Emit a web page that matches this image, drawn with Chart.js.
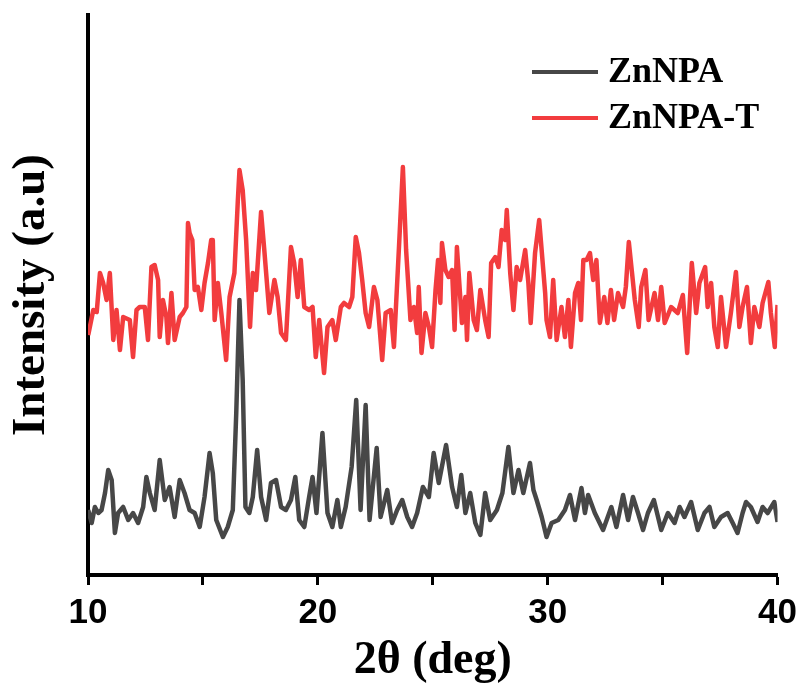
<!DOCTYPE html>
<html>
<head>
<meta charset="utf-8">
<title>ZnNPA XRD</title>
<script src="https://cdn.jsdelivr.net/npm/chart.js@4.4.1/dist/chart.umd.min.js"></script>
<style>
  html, body { margin: 0; padding: 0; background: #fff; }
  canvas { display: block; }
</style>
</head>
<body>
<canvas id="xrd-chart" width="804" height="693"></canvas>
<script>
// XRD patterns, 2-theta in degrees, intensity in arbitrary units
const zn2theta = [
  10.01, 10.16, 10.30, 10.45, 10.59, 10.74, 10.88, 11.03, 11.17, 11.31,
  11.53, 11.75, 11.96, 12.18, 12.40, 12.54, 12.69, 12.90, 13.12, 13.34,
  13.55, 13.77, 13.99, 14.20, 14.42, 14.64, 14.86, 15.07, 15.29, 15.43,
  15.58, 15.87, 16.08, 16.30, 16.45, 16.59, 16.73, 16.85, 17.02, 17.17,
  17.36, 17.53, 17.75, 17.96, 18.18, 18.40, 18.61, 18.83, 19.02, 19.19,
  19.41, 19.62, 19.77, 19.94, 20.20, 20.42, 20.63, 20.85, 21.00, 21.21,
  21.47, 21.67, 21.86, 22.08, 22.25, 22.56, 22.73, 23.02, 23.23, 23.45,
  23.67, 23.89, 24.10, 24.32, 24.57, 24.83, 25.04, 25.26, 25.58, 25.84,
  26.05, 26.24, 26.42, 26.63, 26.85, 27.07, 27.28, 27.50, 27.79, 28.03,
  28.29, 28.51, 28.73, 28.94, 29.23, 29.38, 29.52, 29.74, 29.95, 30.17,
  30.46, 30.75, 30.97, 31.19, 31.47, 31.62, 31.76, 32.05, 32.41, 32.77,
  32.99, 33.28, 33.50, 33.71, 33.93, 34.15, 34.36, 34.62, 34.94, 35.23,
  35.52, 35.74, 35.95, 36.24, 36.53, 36.82, 37.04, 37.25, 37.54, 37.83,
  38.05, 38.26, 38.48, 38.63, 38.84, 39.13, 39.35, 39.57, 39.86, 40.00
];
const znIntensity = [
  63, 50, 66, 60, 63, 80, 103, 93, 40, 60,
  66, 53, 60, 50, 66, 96, 80, 63, 113, 73,
  86, 56, 93, 80, 63, 60, 46, 76, 120, 100,
  53, 36, 46, 63, 160, 273, 193, 66, 60, 76,
  123, 76, 53, 90, 93, 66, 63, 73, 96, 53,
  46, 76, 96, 60, 140, 60, 46, 73, 46, 66,
  106, 173, 63, 168, 53, 125, 56, 83, 50, 63,
  73, 56, 46, 60, 86, 76, 120, 90, 128, 86,
  66, 98, 60, 80, 50, 38, 80, 53, 63, 80,
  126, 80, 103, 80, 110, 83, 73, 56, 36, 50,
  53, 63, 78, 53, 85, 60, 78, 60, 43, 66,
  46, 78, 53, 76, 60, 43, 60, 73, 43, 60,
  50, 66, 56, 71, 43, 60, 66, 46, 56, 60,
  50, 40, 60, 71, 66, 51, 66, 60, 71, 51
];

const znt2theta = [
  10.01, 10.23, 10.38, 10.52, 10.66, 10.81, 10.95, 11.10, 11.24, 11.39,
  11.53, 11.82, 11.96, 12.11, 12.25, 12.47, 12.61, 12.76, 12.90, 13.05,
  13.12, 13.26, 13.41, 13.48, 13.63, 13.77, 13.99, 14.13, 14.28, 14.35,
  14.42, 14.54, 14.64, 14.78, 14.93, 15.07, 15.22, 15.36, 15.43, 15.51,
  15.65, 15.80, 16.01, 16.16, 16.37, 16.52, 16.59, 16.73, 16.88, 17.05,
  17.17, 17.31, 17.53, 17.67, 17.89, 18.11, 18.25, 18.40, 18.61, 18.83,
  18.97, 19.12, 19.26, 19.41, 19.62, 19.77, 19.91, 20.06, 20.27, 20.42,
  20.63, 20.78, 21.00, 21.14, 21.36, 21.50, 21.65, 21.79, 21.93, 22.08,
  22.23, 22.44, 22.59, 22.80, 22.95, 23.17, 23.31, 23.53, 23.70, 23.84,
  24.03, 24.18, 24.32, 24.39, 24.51, 24.68, 24.83, 24.97, 25.12, 25.23,
  25.33, 25.40, 25.55, 25.69, 25.84, 25.95, 26.05, 26.27, 26.42, 26.49,
  26.59, 26.78, 26.92, 27.07, 27.28, 27.43, 27.54, 27.72, 27.86, 28.00,
  28.15, 28.22, 28.37, 28.51, 28.65, 28.80, 29.02, 29.16, 29.26, 29.45,
  29.63, 29.89, 29.95, 30.10, 30.24, 30.39, 30.60, 30.75, 30.90, 31.01,
  31.19, 31.33, 31.45, 31.55, 31.69, 31.84, 31.98, 32.12, 32.27, 32.46,
  32.60, 32.75, 32.89, 33.06, 33.28, 33.40, 33.53, 33.67, 33.79, 33.96,
  34.07, 34.25, 34.39, 34.65, 34.80, 34.94, 35.09, 35.37, 35.66, 35.88,
  36.07, 36.27, 36.46, 36.60, 36.85, 36.96, 37.11, 37.25, 37.40, 37.54,
  37.76, 37.97, 38.19, 38.34, 38.48, 38.67, 38.84, 38.99, 39.21, 39.35,
  39.60, 39.71, 39.88, 40.00
];
const zntIntensity = [
  238, 263, 261, 300, 290, 273, 300, 233, 263, 223,
  256, 253, 216, 263, 266, 266, 233, 306, 308, 293,
  236, 273, 256, 230, 280, 233, 256, 260, 266, 350,
  340, 333, 283, 286, 263, 290, 310, 333, 333, 253,
  290, 260, 213, 276, 300, 373, 403, 383, 333, 246,
  300, 283, 361, 323, 260, 293, 276, 240, 233, 326,
  310, 276, 313, 266, 263, 266, 216, 253, 200, 246,
  253, 233, 266, 270, 266, 276, 336, 320, 293, 260,
  246, 286, 273, 213, 260, 263, 226, 326, 406, 323,
  253, 266, 240, 286, 220, 260, 246, 226, 283, 313,
  270, 330, 303, 296, 303, 243, 326, 250, 276, 233,
  300, 253, 243, 283, 253, 236, 310, 316, 306, 343,
  333, 363, 300, 263, 306, 293, 323, 290, 250, 320,
  353, 280, 253, 236, 293, 233, 266, 236, 273, 226,
  280, 290, 253, 313, 313, 320, 293, 313, 250, 276,
  250, 283, 253, 280, 266, 286, 331, 300, 273, 246,
  286, 303, 253, 280, 253, 286, 250, 266, 260, 278,
  220, 310, 260, 290, 306, 266, 290, 246, 226, 276,
  226, 260, 301, 246, 266, 286, 230, 266, 246, 270,
  291, 260, 226, 268
];

const xTickLabels = [10, 20, 30, 40];

function toPoints(xs, ys) {
  return xs.map((x, i) => ({ x: x, y: ys[i] }));
}

// legend drawn inside the plot, top right
const lineLegend = {
  id: "lineLegend",
  afterDraw(chart, args, opts) {
    const ctx = chart.ctx;
    ctx.save();
    ctx.font = "bold " + opts.fontSize + "px 'Liberation Serif'";
    ctx.textBaseline = "middle";
    ctx.fillStyle = "#000";
    chart.data.datasets.forEach((ds, i) => {
      const y = opts.top + i * opts.rowGap;
      ctx.strokeStyle = ds.borderColor;
      ctx.lineWidth = 4;
      ctx.beginPath();
      ctx.moveTo(opts.left, y);
      ctx.lineTo(opts.left + opts.lineLength, y);
      ctx.stroke();
      ctx.fillText(ds.label, opts.left + opts.lineLength + 10, y + 1);
    });
    ctx.restore();
  },
};

const xrdCtx = document.getElementById("xrd-chart").getContext("2d");
new Chart(xrdCtx, {
  type: "line",
  data: {
    datasets: [
      {
        label: "ZnNPA",
        data: toPoints(zn2theta, znIntensity),
        borderColor: "#474747",
        borderWidth: 4.5,
        pointRadius: 0,
        tension: 0,
        borderJoinStyle: "round",
      },
      {
        label: "ZnNPA-T",
        data: toPoints(znt2theta, zntIntensity),
        borderColor: "#f23c3e",
        borderWidth: 4.5,
        pointRadius: 0,
        tension: 0,
        borderJoinStyle: "round",
      },
    ],
  },
  options: {
    responsive: false,
    animation: false,
    layout: { padding: { top: 15, right: 24, left: 0, bottom: 0 } },
    plugins: {
      legend: { display: false },
      tooltip: { enabled: false },
      lineLegend: { left: 532, top: 72, rowGap: 46, lineLength: 66, fontSize: 36 },
    },
    scales: {
      x: {
        type: "linear",
        min: 10,
        max: 40,
        ticks: {
          stepSize: 5,
          autoSkip: false,
          maxRotation: 0,
          padding: 7,
          color: "#000",
          font: { family: "'Liberation Sans'", size: 35, weight: "bold" },
          callback: (value) => (xTickLabels.includes(value) ? value : ""),
        },
        grid: {
          drawOnChartArea: false,
          drawTicks: true,
          tickLength: 10,
          tickWidth: 3,
          tickColor: "#000",
        },
        border: { display: true, color: "#000", width: 4 },
        title: {
          display: true,
          text: "2θ (deg)",
          color: "#000",
          font: { family: "'Liberation Serif'", size: 46, weight: "bold" },
          padding: { top: 0, bottom: 4 },
        },
        afterFit: (scale) => {
          scale.height = 118;
        },
      },
      y: {
        min: -2,
        max: 558,
        ticks: { display: false },
        grid: { display: false },
        border: { display: true, color: "#000", width: 4 },
        title: {
          display: true,
          text: "Intensity (a.u)",
          color: "#000",
          font: { family: "'Liberation Serif'", size: 47, weight: "bold" },
          padding: { top: 4, bottom: 0 },
        },
        afterFit: (scale) => {
          scale.width = 88;
        },
      },
    },
  },
  plugins: [lineLegend],
});
</script>
</body>
</html>
